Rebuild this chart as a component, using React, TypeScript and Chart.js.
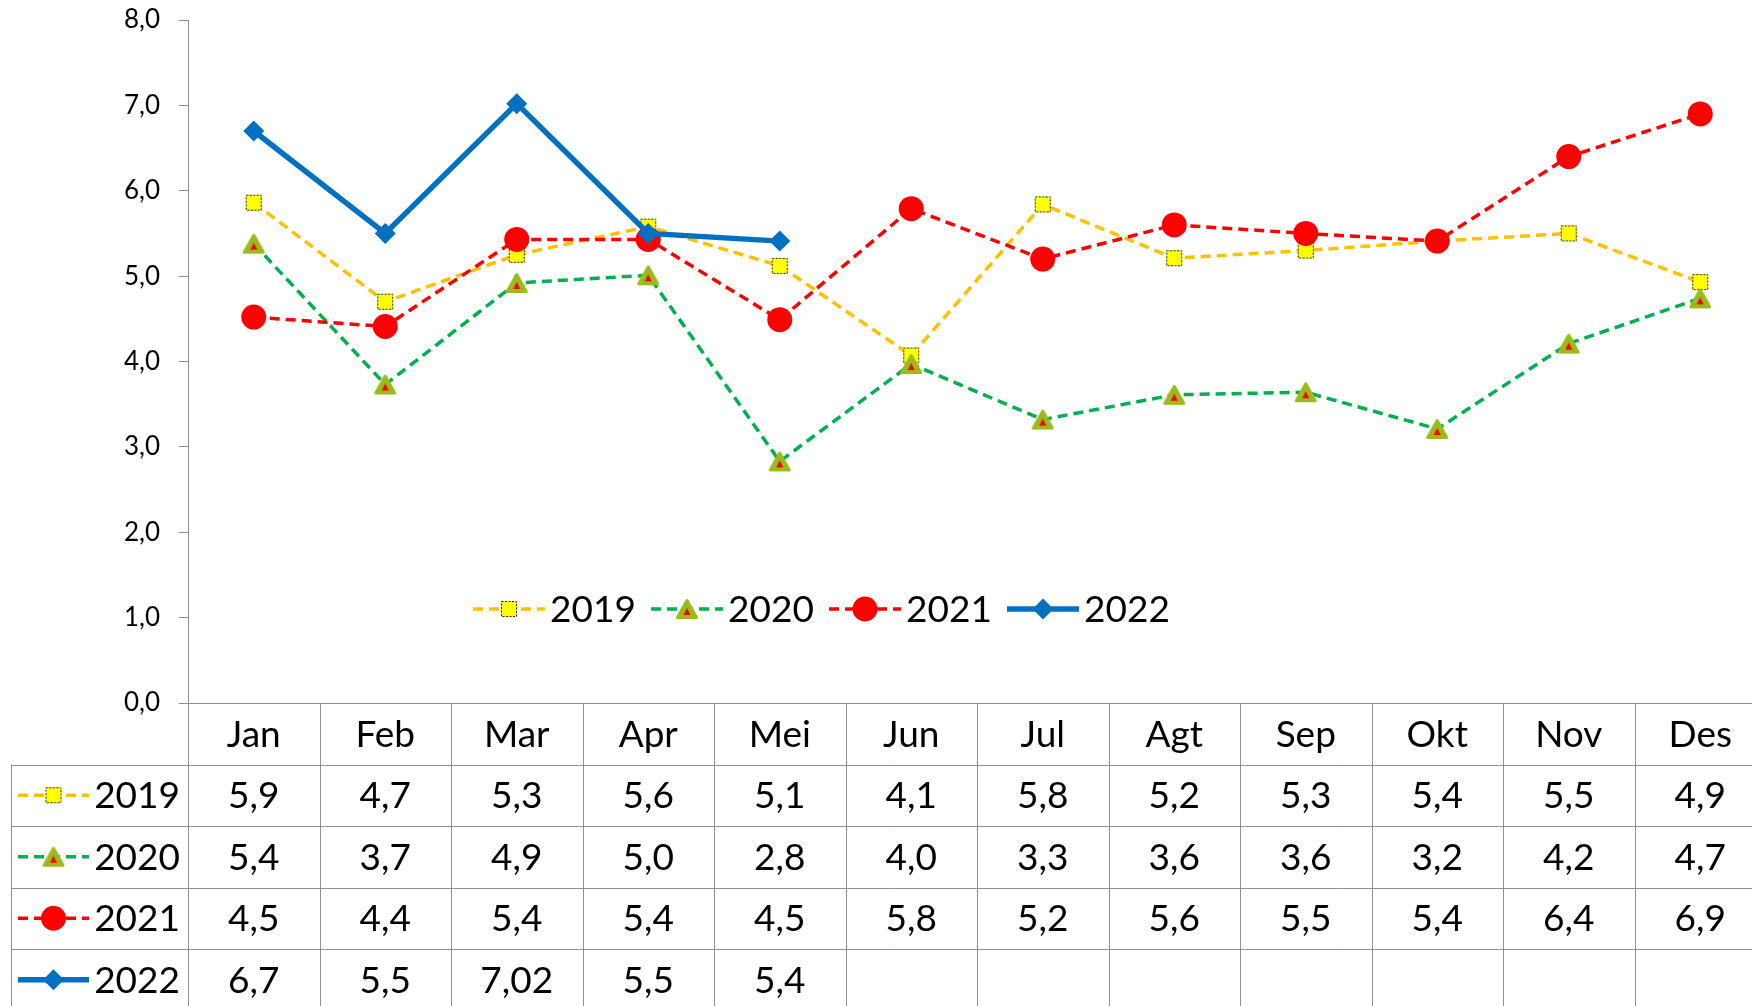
import React, { useEffect, useRef } from 'react';
import { Chart, registerables } from 'chart.js';

Chart.register(...registerables);

// ---- data ----
const months = ['Jan', 'Feb', 'Mar', 'Apr', 'Mei', 'Jun', 'Jul', 'Agt', 'Sep', 'Okt', 'Nov', 'Des'];
const seriesNames = ['2019', '2020', '2021', '2022'];

const values2019 = [5.86, 4.7, 5.25, 5.58, 5.12, 4.07, 5.84, 5.21, 5.3, 5.41, 5.5, 4.93];
const values2020 = [5.38, 3.73, 4.92, 5.01, 2.83, 3.97, 3.32, 3.61, 3.64, 3.21, 4.21, 4.74];
const values2021 = [4.52, 4.41, 5.43, 5.43, 4.49, 5.79, 5.2, 5.6, 5.5, 5.41, 6.4, 6.9];
const values2022 = [6.7, 5.5, 7.02, 5.5, 5.41, null, null, null, null, null, null, null];

const table2019 = ['5,9', '4,7', '5,3', '5,6', '5,1', '4,1', '5,8', '5,2', '5,3', '5,4', '5,5', '4,9'];
const table2020 = ['5,4', '3,7', '4,9', '5,0', '2,8', '4,0', '3,3', '3,6', '3,6', '3,2', '4,2', '4,7'];
const table2021 = ['4,5', '4,4', '5,4', '5,4', '4,5', '5,8', '5,2', '5,6', '5,5', '5,4', '6,4', '6,9'];
const table2022 = ['6,7', '5,5', '7,02', '5,5', '5,4', '', '', '', '', '', '', ''];

const yMin = 0;
const yMax = 8;
const yStep = 1;

// ---- styles ----
const FONT = 'Lato, "Open Sans", sans-serif';
const GRID = '#8f8f8f';
const lineColors = ['#FFC000', '#00B050', '#FF0000', '#0070C0'];
const lineWidths = [3.5, 3.5, 3.5, 5.5];
const lineDashes = [[10, 6], [10, 6], [10, 6], []];

function makeSquare(): HTMLCanvasElement {
  const c = document.createElement('canvas');
  c.width = 18;
  c.height = 18;
  const g = c.getContext('2d')!;
  g.fillStyle = '#FFFF00';
  g.fillRect(1, 1, 16, 16);
  g.strokeStyle = '#222';
  g.lineWidth = 1;
  g.setLineDash([2, 1.5]);
  g.strokeRect(1.5, 1.5, 15, 15);
  return c;
}

function makeTriangle(): HTMLCanvasElement {
  const c = document.createElement('canvas');
  c.width = 24;
  c.height = 22;
  const g = c.getContext('2d')!;
  g.beginPath();
  g.moveTo(12, 2.5);
  g.lineTo(21.5, 19.5);
  g.lineTo(2.5, 19.5);
  g.closePath();
  g.fillStyle = '#9BBB1C';
  g.strokeStyle = '#9BBB1C';
  g.lineWidth = 3;
  g.lineJoin = 'round';
  g.fill();
  g.stroke();
  g.beginPath();
  g.moveTo(12, 10);
  g.lineTo(15.5, 17);
  g.lineTo(8.5, 17);
  g.closePath();
  g.fillStyle = '#FF0000';
  g.fill();
  return c;
}

function drawMarker(ctx: CanvasRenderingContext2D, ds: any, x: number, y: number) {
  const style = ds.pointStyle;
  ctx.save();
  ctx.setLineDash([]);
  if (typeof style === 'object' && style) {
    ctx.drawImage(style, x - style.width / 2, y - style.height / 2);
  } else if (style === 'circle') {
    ctx.beginPath();
    ctx.arc(x, y, ds.pointRadius, 0, Math.PI * 2);
    ctx.fillStyle = ds.pointBackgroundColor;
    ctx.fill();
  } else if (style === 'rectRot') {
    const r = ds.pointRadius;
    ctx.beginPath();
    ctx.moveTo(x - r, y);
    ctx.lineTo(x, y - r);
    ctx.lineTo(x + r, y);
    ctx.lineTo(x, y + r);
    ctx.closePath();
    ctx.fillStyle = ds.pointBackgroundColor;
    ctx.fill();
  }
  ctx.restore();
}

function drawSample(ctx: CanvasRenderingContext2D, ds: any, x1: number, x2: number, y: number) {
  ctx.save();
  ctx.strokeStyle = ds.borderColor;
  ctx.lineWidth = ds.borderWidth;
  ctx.setLineDash(ds.borderDash || []);
  ctx.lineCap = 'butt';
  ctx.beginPath();
  ctx.moveTo(x1, y);
  ctx.lineTo(x2, y);
  ctx.stroke();
  ctx.restore();
  drawMarker(ctx, ds, (x1 + x2) / 2, y);
}

const excelPlugin = {
  id: 'excelTableLegend',
  afterDraw(chart: any) {
    const ctx: CanvasRenderingContext2D = chart.ctx;
    const xs = chart.scales.x;
    const area = chart.chartArea;
    const datasets = chart.data.datasets;
    const tables = [table2019, table2020, table2021, table2022];
    const n = chart.data.labels.length;
    const step = xs.getPixelForValue(1) - xs.getPixelForValue(0);
    const top = area.bottom;
    const rowH = 61.5;
    const bottom = chart.height;
    const tableLeft = 11;

    ctx.save();
    // grid lines
    ctx.strokeStyle = GRID;
    ctx.lineWidth = 1;
    ctx.beginPath();
    ctx.moveTo(area.left, top + 0.5);
    ctx.lineTo(chart.width, top + 0.5);
    for (let r = 1; r <= 4; r++) {
      const yy = Math.round(top + r * rowH) + 0.5;
      ctx.moveTo(tableLeft, yy);
      ctx.lineTo(chart.width, yy);
    }
    for (let i = 0; i <= n; i++) {
      const xx = Math.round(xs.getPixelForValue(i) - step / 2) + 0.5;
      ctx.moveTo(xx, top);
      ctx.lineTo(xx, bottom);
    }
    ctx.moveTo(tableLeft + 0.5, top + rowH);
    ctx.lineTo(tableLeft + 0.5, bottom);
    ctx.stroke();

    // header text
    ctx.fillStyle = '#000';
    ctx.font = `37px ${FONT}`;
    ctx.textAlign = 'center';
    ctx.textBaseline = 'middle';
    chart.data.labels.forEach((m: string, i: number) => {
      ctx.fillText(m, xs.getPixelForValue(i), top + rowH / 2 + 1);
    });
    // rows
    datasets.forEach((ds: any, r: number) => {
      const cy = top + (r + 1.5) * rowH + 1;
      tables[r].forEach((t: string, i: number) => {
        if (t) ctx.fillText(t, xs.getPixelForValue(i), cy);
      });
      ctx.textAlign = 'right';
      ctx.fillText(ds.label, area.left - 8, cy);
      ctx.textAlign = 'center';
      drawSample(ctx, ds, 18, 89, cy - 1);
    });

    // legend
    const ly = 609;
    let lx = area.left + 285;
    datasets.forEach((ds: any) => {
      drawSample(ctx, ds, lx, lx + 72, ly);
      ctx.fillStyle = '#000';
      ctx.textAlign = 'left';
      ctx.fillText(ds.label, lx + 77, ly + 1);
      lx += 178;
    });
    ctx.restore();
  },
};

export default function App() {
  const ref = useRef<HTMLCanvasElement | null>(null);

  useEffect(() => {
    if (!ref.current) return;
    const square = makeSquare();
    const triangle = makeTriangle();
    const seriesValues = [values2019, values2020, values2021, values2022];
    const pointStyles: any[] = [square, triangle, 'circle', 'rectRot'];
    const pointRadii = [9, 11, 12.5, 10.5];

    const datasets = seriesNames.map((name, i) => ({
      label: name,
      data: seriesValues[i],
      borderColor: lineColors[i],
      backgroundColor: lineColors[i],
      borderWidth: lineWidths[i],
      borderDash: lineDashes[i],
      borderCapStyle: 'butt' as const,
      pointStyle: pointStyles[i],
      pointRadius: pointRadii[i],
      pointHoverRadius: pointRadii[i],
      pointBackgroundColor: lineColors[i] === '#FFC000' ? '#FFFF00' : lineColors[i],
      pointBorderWidth: 0,
      tension: 0,
      spanGaps: false,
      order: 4 - i,
      clip: false as const,
    }));

    const chart = new Chart(ref.current, {
      type: 'line',
      data: { labels: months, datasets },
      options: {
        animation: false,
        responsive: false,
        events: [],
        layout: { padding: { top: 20, right: 14, bottom: 303, left: 0 } },
        plugins: { legend: { display: false }, tooltip: { enabled: false } },
        scales: {
          x: { type: 'category', offset: true, display: false },
          y: {
            min: yMin,
            max: yMax,
            ticks: {
              stepSize: yStep,
              color: '#000',
              padding: 19,
              font: { family: FONT, size: 26 },
              callback: (v: any) => Number(v).toFixed(1).replace('.', ','),
            },
            grid: { drawOnChartArea: false, drawTicks: true, tickLength: 9, color: GRID },
            border: { color: GRID, width: 1 },
            afterFit: (s: any) => {
              s.width = 188;
              s.paddingTop = 14;
              s.paddingBottom = 14;
            },
          },
        },
      },
      plugins: [excelPlugin],
    });
    return () => chart.destroy();
  }, []);

  return (
    <div style={{ position: 'absolute', left: 0, top: 0, width: 1752, height: 1006, overflow: 'hidden', background: '#fff' }}>
      <canvas ref={ref} width={1780} height={1006} style={{ display: 'block', width: 1780, height: 1006 }} />
    </div>
  );
}
